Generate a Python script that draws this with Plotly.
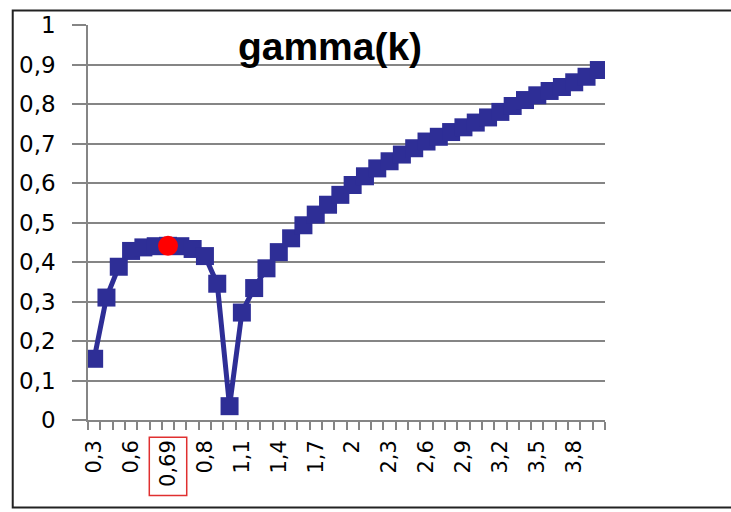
import plotly.graph_objects as go

categories = ["0,3", "0,4", "0,5", "0,6", "0,63", "0,66", "0,69", "0,72", "0,75", "0,8",
              "0,9", "1", "1,1", "1,2", "1,3", "1,4", "1,5", "1,6", "1,7", "1,8",
              "1,9", "2", "2,1", "2,2", "2,3", "2,4", "2,5", "2,6", "2,7", "2,8",
              "2,9", "3", "3,1", "3,2", "3,3", "3,4", "3,5", "3,6", "3,7", "3,8",
              "3,9", "4"]
gamma = [0.155, 0.310, 0.388, 0.428, 0.437, 0.440, 0.441, 0.440, 0.433, 0.415,
         0.345, 0.035, 0.272, 0.334, 0.384, 0.425, 0.460, 0.493, 0.520, 0.545,
         0.570, 0.595, 0.617, 0.637, 0.655, 0.672, 0.688, 0.705, 0.717, 0.729,
         0.741, 0.753, 0.766, 0.780, 0.795, 0.810, 0.822, 0.833, 0.843, 0.855,
         0.869, 0.886]
highlight = "0,69"
label_step = 3
y_ticks = [0, 0.1, 0.2, 0.3, 0.4, 0.5, 0.6, 0.7, 0.8, 0.9, 1]
y_labels = ["0", "0,1", "0,2", "0,3", "0,4", "0,5", "0,6", "0,7", "0,8", "0,9", "1"]

idx = list(range(len(categories)))
hi = categories.index(highlight)
blue = "#2E2E96"
grid = "#858585"

fig = go.Figure()
fig.add_trace(go.Scatter(
    x=idx, y=gamma, mode="lines+markers",
    line=dict(color=blue, width=5),
    marker=dict(symbol="square", size=18, color=blue),
    showlegend=False, hoverinfo="skip"))
fig.add_trace(go.Scatter(
    x=[hi], y=[gamma[hi]], mode="markers",
    marker=dict(symbol="circle", size=20, color="#FF0000"),
    showlegend=False, hoverinfo="skip"))

fig.update_layout(
    width=731, height=512,
    margin=dict(l=88, r=126, t=23, b=92),
    paper_bgcolor="white", plot_bgcolor="white",
    title=dict(text="<b>gamma(k)</b>", x=330 / 731, xanchor="center",
               y=1 - 46 / 512, yanchor="middle",
               font=dict(family="Liberation Sans, Arial", size=39, color="black")),
    font=dict(family="DejaVu Sans", size=21, color="black"),
)
fig.update_xaxes(
    range=[-0.5, len(categories) - 0.5],
    tickmode="array",
    tickvals=idx[::label_step],
    ticktext=categories[::label_step],
    tickangle=-90,
    ticks="outside", ticklen=10, tickcolor="rgba(0,0,0,0)",
    tickfont=dict(family="DejaVu Sans", size=21, color="black"),
    showgrid=False, zeroline=False,
    showline=True, linecolor=grid, linewidth=1.5,
    minor=dict(tickmode="array", tickvals=[i - 0.5 for i in range(len(categories) + 1)],
               ticks="outside", ticklen=8, tickcolor=grid, tickwidth=1.5, showgrid=False),
)
fig.update_yaxes(
    range=[0, 1],
    tickmode="array", tickvals=y_ticks, ticktext=y_labels,
    ticks="outside", ticklen=14, tickcolor=grid, tickwidth=1.5,
    ticklabelstandoff=12,
    tickfont=dict(family="DejaVu Sans", size=23, color="black"),
    showgrid=True, gridcolor=grid, gridwidth=1.5,
    zeroline=False, showline=True, linecolor=grid, linewidth=1.5,
)

# red box around the highlighted tick label
fig.add_shape(type="rect", xref="x", yref="paper",
              x0=hi - 1.52, x1=hi + 1.52, y0=-0.191, y1=-0.0435,
              line=dict(color="#E03030", width=1.5), fillcolor="rgba(0,0,0,0)")
# outer frame (right side runs off the picture)
fig.add_shape(type="rect", xref="paper", yref="paper",
              x0=-0.1456, x1=1.45, y0=-0.2215, y1=1.037,
              line=dict(color="#222222", width=2), fillcolor="rgba(0,0,0,0)",
              layer="below")

fig.write_html("out.html")
